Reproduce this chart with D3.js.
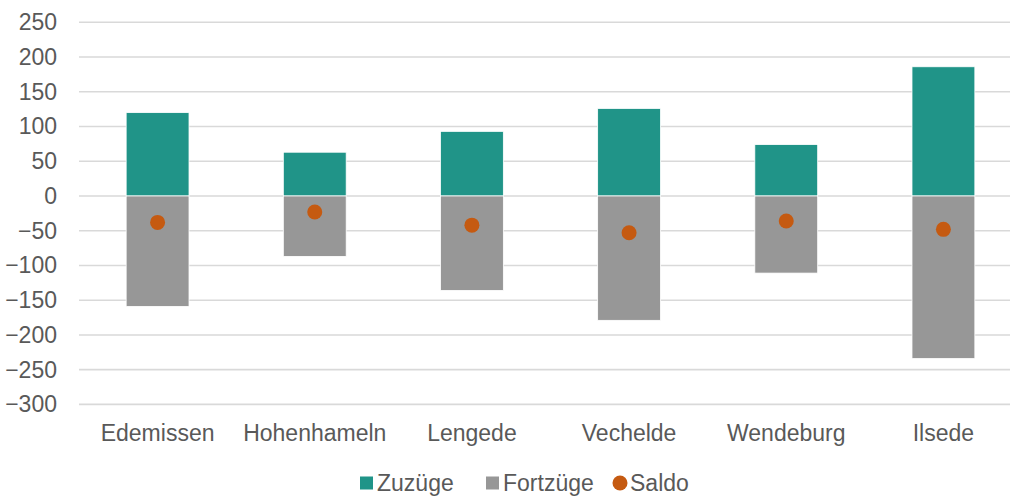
<!DOCTYPE html>
<html>
<head>
<meta charset="utf-8">
<script src="https://cdn.jsdelivr.net/npm/d3@7"></script>
<style>
  body { margin: 0; background: #fff; }
  text { font-family: "Liberation Sans", Arial, sans-serif; fill: #595959; }
</style>
</head>
<body>
<svg id="chart" width="1010" height="496"></svg>
<script>
const places = ['Edemissen', 'Hohenhameln', 'Lengede', 'Vechelde', 'Wendeburg', 'Ilsede'];
const zuzuege = [120, 63, 93, 126, 74, 186];
const fortzuege = [-159, -87, -136, -179, -111, -234];
const saldo = [-38, -23, -42, -53, -36, -48];
const yTicks = [-300, -250, -200, -150, -100, -50, 0, 50, 100, 150, 200, 250];

const green = '#209488';
const grey = '#979797';
const orange = '#C55A11';
const fontSize = 23;

const svg = d3.select('#chart');

const xScale = d3.scaleBand()
  .domain(places)
  .range([79, 1022])
  .paddingInner(0.6)
  .paddingOuter(0.3);

const yScale = d3.scaleLinear()
  .domain([-300, 250])
  .range([404.4, 22.3]);

// grid
svg.append('g')
  .selectAll('line')
  .data(yTicks)
  .join('line')
  .attr('x1', 79)
  .attr('x2', 1010)
  .attr('y1', d => yScale(d))
  .attr('y2', d => yScale(d))
  .attr('stroke', '#d9d9d9')
  .attr('stroke-width', 1.6);

// y axis labels
const yAxis = svg.append('g')
  .attr('transform', 'translate(57,0)')
  .call(d3.axisLeft(yScale).tickValues(yTicks).tickSize(0).tickPadding(0));
yAxis.select('.domain').remove();
yAxis.selectAll('.tick text')
  .attr('font-size', fontSize)
  .attr('font-family', '"Liberation Sans", Arial, sans-serif')
  .attr('fill', '#595959');

// bars
const rows = places.map((p, i) => ({ place: p, zu: zuzuege[i], fort: fortzuege[i], saldo: saldo[i] }));

svg.append('g')
  .selectAll('rect')
  .data(rows)
  .join('rect')
  .attr('x', d => xScale(d.place))
  .attr('width', xScale.bandwidth())
  .attr('y', d => yScale(d.zu))
  .attr('height', d => yScale(0) - yScale(d.zu))
  .attr('fill', green)
  .attr('stroke', '#fff')
  .attr('stroke-width', 0.8);

svg.append('g')
  .selectAll('rect')
  .data(rows)
  .join('rect')
  .attr('x', d => xScale(d.place))
  .attr('width', xScale.bandwidth())
  .attr('y', yScale(0))
  .attr('height', d => yScale(d.fort) - yScale(0))
  .attr('fill', grey)
  .attr('stroke', '#fff')
  .attr('stroke-width', 0.8);

svg.append('g')
  .selectAll('circle')
  .data(rows)
  .join('circle')
  .attr('cx', d => xScale(d.place) + xScale.bandwidth() / 2)
  .attr('cy', d => yScale(d.saldo))
  .attr('r', 7.5)
  .attr('fill', orange);

// x axis labels
const xAxis = svg.append('g')
  .attr('transform', 'translate(0,425)')
  .call(d3.axisBottom(xScale).tickSize(0).tickPadding(0));
xAxis.select('.domain').remove();
xAxis.selectAll('.tick text')
  .attr('font-size', fontSize)
  .attr('font-family', '"Liberation Sans", Arial, sans-serif')
  .attr('fill', '#595959')
  .attr('dy', '0.71em');

// legend
const legend = svg.append('g').attr('transform', 'translate(0,483)');
const legendItems = [
  { label: 'Zuzüge', color: green, shape: 'rect', x: 360 },
  { label: 'Fortzüge', color: grey, shape: 'rect', x: 486 },
  { label: 'Saldo', color: orange, shape: 'circle', x: 613 }
];
legendItems.forEach(it => {
  if (it.shape === 'rect') {
    legend.append('rect').attr('x', it.x).attr('y', -6.5).attr('width', 13).attr('height', 13).attr('fill', it.color);
  } else {
    legend.append('circle').attr('cx', it.x + 7).attr('cy', 0).attr('r', 7.5).attr('fill', it.color);
  }
  legend.append('text')
    .attr('x', it.x + 17)
    .attr('y', 0)
    .attr('dy', '0.35em')
    .attr('font-size', fontSize)
    .text(it.label);
});
</script>
</body>
</html>
